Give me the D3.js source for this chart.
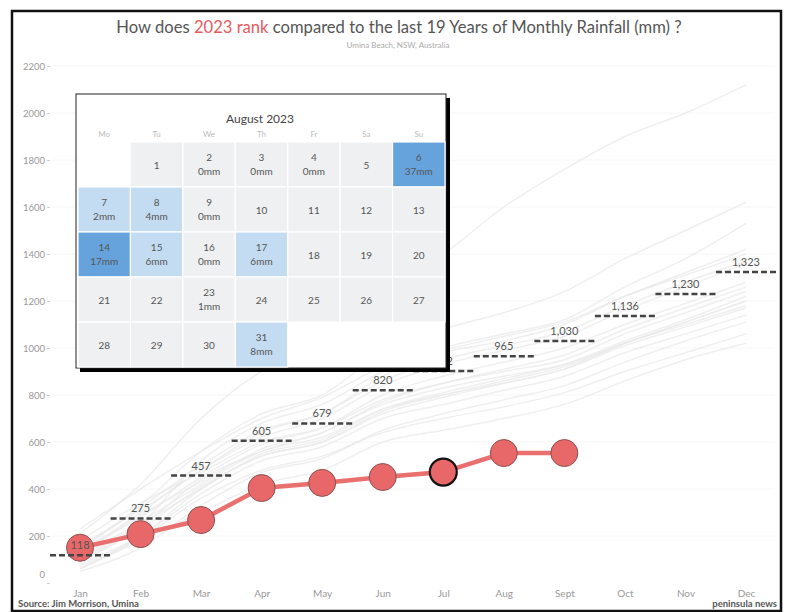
<!DOCTYPE html>
<html><head><meta charset="utf-8">
<script src="https://cdn.jsdelivr.net/npm/d3@7"></script>
<style>body{margin:0;background:#fff}svg{display:block;font-family:Lato,"Open Sans",sans-serif}</style>
</head><body><svg id="c" width="792" height="612"></svg>
<script>
const months = ["Jan","Feb","Mar","Apr","May","Jun","Jul","Aug","Sept","Oct","Nov","Dec"];
const yTicks = [0,200,400,600,800,1000,1200,1400,1600,1800,2000,2200];
// cumulative average (dashed markers)
const avgCum = [118,275,457,605,679,820,902,965,1030,1136,1230,1323];
// 2023 cumulative rainfall (Jan..Sept)
const cum2023 = [150,208,268,404,426,451,472,553,553];
// previous 19 years cumulative rainfall (faint lines, estimated)
const pastYears = [
 [210,420,700,900,1000,1250,1400,1600,1760,1900,2000,2120],
 [150,330,560,720,800,980,1080,1150,1240,1380,1500,1620],
 [90,250,520,680,760,900,1000,1060,1120,1260,1380,1530],
 [60,180,300,420,480,600,650,700,760,860,950,1020],
 [130,300,480,620,700,840,930,990,1050,1160,1260,1360],
 [180,340,470,600,660,780,850,900,950,1060,1150,1240],
 [80,200,380,520,580,700,760,820,880,980,1060,1140],
 [100,240,440,560,640,760,830,880,930,1020,1110,1200],
 [140,320,500,650,720,880,980,1030,1100,1220,1320,1420],
 [70,190,360,480,540,640,700,750,810,900,980,1060],
 [230,400,560,700,790,920,990,1050,1110,1220,1310,1400],
 [110,260,420,560,620,740,800,860,920,1020,1100,1180],
 [50,150,330,470,530,650,720,780,840,940,1030,1110],
 [160,310,480,640,720,860,950,1010,1070,1180,1280,1370],
 [120,290,430,570,640,770,850,910,970,1080,1170,1260],
 [90,230,410,540,600,730,800,850,910,1010,1090,1170],
 [140,280,450,590,660,800,880,940,1000,1100,1190,1280],
 [100,250,400,550,610,740,810,870,930,1030,1120,1220],
 [60,200,400,540,600,720,790,850,910,1020,1110,1200]
];
// August 2023 daily rainfall (mm)
const augDays = d3.range(1,32);
const augRain = {2:0,3:0,4:0,6:37,7:2,8:4,9:0,14:17,15:6,16:0,17:6,23:1,31:8};
const weekDays = ["Mo","Tu","We","Th","Fr","Sa","Su"];

const svg = d3.select("#c");
const x = d3.scalePoint().domain(months).range([80,746]);
const y = d3.scaleLinear().domain([0,2200]).range([583,66]);

// frame
svg.append("rect").attr("x",12).attr("y",11).attr("width",769).attr("height",600)
  .attr("fill","#fff").attr("stroke","#111").attr("stroke-width",2.5);

// faint gridlines
svg.append("g").selectAll("line").data(yTicks.slice(1)).join("line")
  .attr("x1",52).attr("x2",775).attr("y1",d=>y(d)).attr("y2",d=>y(d))
  .attr("stroke","#f6f6f6").attr("stroke-width",1);

// y axis
const yAxis = svg.append("g").attr("transform","translate(50,0)")
  .call(d3.axisLeft(y).tickValues(yTicks).tickSize(3).tickPadding(2).tickFormat(d3.format("d")));
yAxis.select(".domain").remove();
yAxis.selectAll(".tick line").attr("stroke","#ccc");
yAxis.selectAll(".tick text").attr("fill","#999").attr("font-size",9.5).attr("font-family","Lato,sans-serif");
yAxis.selectAll(".tick").filter(d=>d===0).select("text").attr("dy","-0.55em");

// x axis labels
const xAxis = svg.append("g").attr("transform","translate(0,586)")
  .call(d3.axisBottom(x).tickSize(0).tickPadding(4));
xAxis.select(".domain").remove();
xAxis.selectAll(".tick text").attr("fill","#999").attr("font-size",10).attr("font-family","Lato,sans-serif");

// past year lines
const line = d3.line().x((d,i)=>x(months[i])).y(d=>y(d)).curve(d3.curveMonotoneX);
svg.append("g").selectAll("path").data(pastYears).join("path")
  .attr("d",line).attr("fill","none").attr("stroke","#e9e9e9").attr("stroke-width",1.5).attr("opacity",0.75);

// 2023 line
const line23 = d3.line().x((d,i)=>x(months[i])).y(d=>y(d));
svg.append("path").datum(cum2023).attr("d",line23).attr("fill","none")
  .attr("stroke","#ea6f6f").attr("stroke-width",4.5);
svg.append("g").selectAll("circle").data(cum2023).join("circle")
  .attr("cx",(d,i)=>x(months[i])).attr("cy",d=>y(d)).attr("r",13.5)
  .attr("fill","#e8686a").attr("stroke",(d,i)=>i===6?"#111":"#8a5050")
  .attr("stroke-width",(d,i)=>i===6?2.2:1);

// average dashed markers
const avgG = svg.append("g");
avgG.selectAll("line").data(avgCum).join("line")
  .attr("x1",(d,i)=>x(months[i])-30).attr("x2",(d,i)=>x(months[i])+30)
  .attr("y1",d=>y(d)).attr("y2",d=>y(d))
  .attr("stroke","#444").attr("stroke-width",2.5).attr("stroke-dasharray","6,3");
avgG.selectAll("text").data(avgCum).join("text")
  .attr("x",(d,i)=>x(months[i])).attr("y",d=>y(d)-6)
  .attr("text-anchor","middle").attr("font-size",11).attr("fill","#555")
  .text(d=>d3.format(",")(d));

// title
const t = svg.append("text").attr("x",399).attr("y",33).attr("text-anchor","middle")
  .attr("font-size",16.6).attr("fill","#555");
t.append("tspan").text("How does ");
t.append("tspan").attr("fill","#e8595b").text("2023 rank");
t.append("tspan").text(" compared to the last 19 Years of Monthly Rainfall (mm) ?");
svg.append("text").attr("x",398).attr("y",48).attr("text-anchor","middle")
  .attr("font-size",8).attr("fill","#aaa").text("Umina Beach, NSW, Australia");

// footer
svg.append("text").attr("x",18).attr("y",607).attr("font-size",9.5).attr("fill","#555")
  .attr("font-weight","bold").text("Source: Jim Morrison, Umina");
svg.append("text").attr("x",777).attr("y",607).attr("text-anchor","end").attr("font-size",9.5)
  .attr("fill","#555").attr("font-weight","bold").text("peninsula news");

// calendar inset
const cal = svg.append("g");
cal.append("rect").attr("x",80).attr("y",98).attr("width",370).attr("height",274).attr("fill","#000");
cal.append("rect").attr("x",76).attr("y",94).attr("width",370).attr("height",274)
  .attr("fill","#fff").attr("stroke","#222").attr("stroke-width",1);
cal.append("text").attr("x",260).attr("y",123).attr("text-anchor","middle")
  .attr("font-size",12).attr("fill","#444").text("August 2023");
const cx = d3.scaleBand().domain(d3.range(7)).range([78,445]);
const cy = d3.scaleBand().domain(d3.range(5)).range([142,367]);
cal.selectAll("text.wd").data(weekDays).join("text").attr("class","wd")
  .attr("x",(d,i)=>cx(i)+cx.bandwidth()/2).attr("y",137).attr("text-anchor","middle")
  .attr("font-size",8).attr("fill","#bbb").text(d=>d);
const col = d => (new Date(2023,7,d).getDay()+6)%7;
const row = d => Math.floor((d-1+col(1))/7);
const fillFor = d => {
  const v = augRain[d];
  if (v === undefined || v < 2) return "#eef0f2";
  if (v >= 10) return "#66a3dc";
  return "#c4dcf1";
};
const cells = cal.selectAll("g.cell").data(augDays).join("g").attr("class","cell")
  .attr("transform",d=>`translate(${cx(col(d))},${cy(row(d))})`);
cells.append("rect").attr("width",cx.bandwidth()).attr("height",cy.bandwidth())
  .attr("fill",fillFor).attr("stroke","#fff").attr("stroke-width",1.2);
cells.append("text").attr("x",cx.bandwidth()/2)
  .attr("y",d=>augRain[d]===undefined?cy.bandwidth()/2+4:19)
  .attr("text-anchor","middle").attr("font-size",10).attr("fill","#555").text(d=>d);
cells.filter(d=>augRain[d]!==undefined).append("text").attr("x",cx.bandwidth()/2).attr("y",33)
  .attr("text-anchor","middle").attr("font-size",10).attr("fill","#555").text(d=>augRain[d]+"mm");
</script></body></html>
